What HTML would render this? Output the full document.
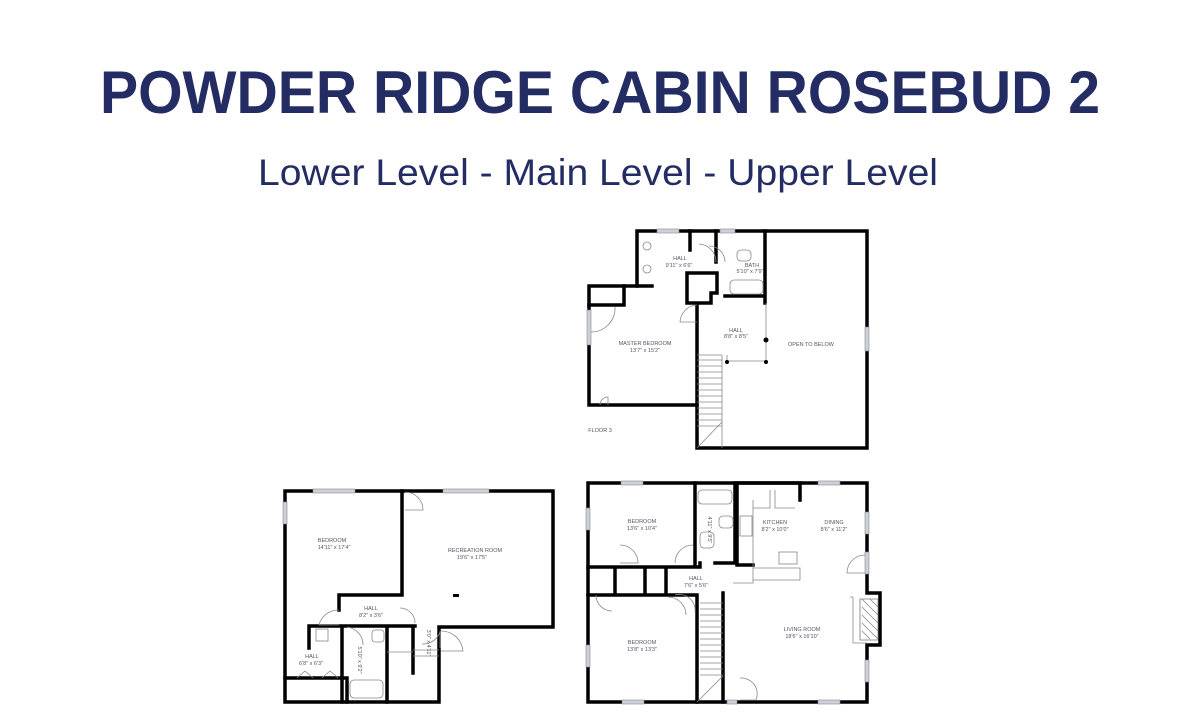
<!DOCTYPE html>
<html><head><meta charset="utf-8"><style>
html,body{margin:0;padding:0;background:#fff;}
svg{display:block;}
.t{font-family:"Liberation Sans",sans-serif;fill:#232c63;}
.w{fill:none;stroke:#000;stroke-width:3.5;stroke-linejoin:miter;stroke-linecap:square;}
.th{fill:none;stroke:#888;stroke-width:0.8;}
.win{fill:#cdd1dc;stroke:#888;stroke-width:0.6;}
.l{font-family:"Liberation Sans",sans-serif;font-size:5.5px;fill:#556;text-anchor:middle;}
</style></head><body>
<svg width="1200" height="720" viewBox="0 0 1200 720" xmlns="http://www.w3.org/2000/svg">
<rect width="1200" height="720" fill="#fff"/>
<text class="t" x="600" y="113" text-anchor="middle" font-size="60" font-weight="bold" textLength="1000" lengthAdjust="spacingAndGlyphs">POWDER RIDGE CABIN ROSEBUD 2</text>
<text class="t" x="598" y="185" text-anchor="middle" font-size="37" textLength="680" lengthAdjust="spacingAndGlyphs">Lower Level - Main Level - Upper Level</text>

<!-- FLOOR 3 -->
<g>
<path class="w" d="M637,286 L637,231 L867,231 L867,448 L697,448 L697,405 L589,405 L589,286 Z"/>
<path class="w" d="M765,231 L765,303 M725,296 L765,296 M687,273 L717,273 L717,293 L711,293 L711,303 L687,303 Z M716,231 L716,262 M690,231 L690,250 M697,303 L697,405 M589,305 L624,305 L624,286 M637,286 L652,286"/>
<path class="th" d="M766,303 L766,361 L727,361 L727,355 M722,355 L722,448 M697,355 L722,355"/>
<g class="th"><path d="M697,360H722M697,366H722M697,372H722M697,378H722M697,384H722M697,390H722M697,396H722M697,402H722M697,408H722M697,414H722M697,420H722M697,426H722M697,448L722,422"/></g>
<path class="th" d="M697,305 a18,18 0 0 0 -17,17 L697,322 M716,262 a18,18 0 0 0 -17,-18 M725,262 a16,16 0 0 0 -16,-16 M590,332 a24,24 0 0 0 25,-25 M600,405 a8,8 0 0 1 8,-8 L608,405"/>
<circle cx="766" cy="340" r="2.5"/><circle cx="727" cy="362" r="2"/><circle cx="766" cy="362" r="2"/>
<rect x="737" y="250" width="14" height="11" rx="4" class="th"/><rect x="730" y="280" width="33" height="14" rx="4" class="th"/>
<circle cx="647" cy="246" r="4" class="th"/><circle cx="647" cy="269" r="4" class="th"/>
<rect class="win" x="657" y="229" width="22" height="4"/>
<rect class="win" x="720" y="229" width="15" height="4"/>
<rect class="win" x="587" y="310" width="4" height="35"/>
<rect class="win" x="865" y="327" width="4" height="24"/>
<text class="l" x="680" y="260">HALL</text><text class="l" x="679" y="267">9'11" x 6'6"</text>
<text class="l" x="752" y="267">BATH</text><text class="l" x="750" y="273">5'10" x 7'9"</text>
<text class="l" x="736" y="332">HALL</text><text class="l" x="736" y="338">8'8" x 8'5"</text>
<text class="l" x="645" y="345">MASTER BEDROOM</text><text class="l" x="645" y="352">13'7" x 15'2"</text>
<text class="l" x="811" y="346">OPEN TO BELOW</text>
<text class="l" x="600" y="432">FLOOR 3</text>
</g>

<!-- LOWER -->
<g>
<path class="w" d="M285,491 L553,491 L553,627 L439,627 L439,702 L285,702 Z"/>
<path class="w" d="M402,491 L402,595 L339,595 L339,610 M310,626 L415,626 M342,626 L342,702 M387,626 L387,702 M413,626 L413,673 M309,626 L309,648 M285,678 L347,678 L347,702"/>
<path class="th" d="M339,610 a20,20 0 0 0 -20,15 L339,625 M405,492 a18,18 0 0 1 18,18 L405,510 M400,608 a15,15 0 0 1 15,15 M440,632 a18,18 0 0 1 -18,12 M347,627 a18,18 0 0 1 16,18 M440,631 L440,648 M441,631 a22,22 0 0 1 22,20 L441,651"/>
<path class="th" d="M413,650 L439,650 M413,656 L439,656 M387,652 L413,652 M297,678 L305,671 L313,678 M322,678 L330,671 L338,678"/>
<rect class="th" x="350" y="680" width="33" height="18" rx="4"/><rect class="th" x="372" y="630" width="12" height="12" rx="3"/>
<rect class="th" x="316" y="629" width="12" height="12"/>
<rect x="453" y="594" width="6" height="3"/>
<rect class="win" x="313" y="489" width="42" height="4"/>
<rect class="win" x="443" y="489" width="46" height="4"/>
<rect class="win" x="283" y="502" width="4" height="22"/>
<text class="l" x="332" y="542">BEDROOM</text><text class="l" x="334" y="549">14'11" x 17'4"</text>
<text class="l" x="475" y="552">RECREATION ROOM</text><text class="l" x="472" y="559">19'6" x 17'5"</text>
<text class="l" x="371" y="610">HALL</text><text class="l" x="371" y="617">8'2" x 3'6"</text>
<text class="l" x="312" y="658">HALL</text><text class="l" x="311" y="665">6'8" x 6'3"</text>
<text class="l" x="358" y="660" transform="rotate(90 358 660)">5'10" x 9'2"</text>
<text class="l" x="427" y="643" transform="rotate(90 427 643)">3'0" x 4'11"</text>
</g>

<!-- MAIN -->
<g>
<path class="w" d="M588,483 L867,483 L867,593 L880,593 L880,645 L867,645 L867,702 L588,702 Z"/>
<path class="w" d="M695,483 L695,567 M588,567 L700,567 L700,563 M588,595 L697,595 M615,567 L615,595 M645,567 L645,595 M666,567 L666,595 M697,595 L697,702 M723,593 L723,702 M735,483 L735,563 M715,563 L735,563 M737,483 L737,565 L753,565 M737,483 L800,483 L800,500"/>
<path class="th" d="M753,508 L770,508 L770,490 M775,490 L775,508 L795,508 M753,500 L753,568 L800,568 L800,580 L753,580 M733,583 L753,583 L753,568 M853,597 L853,643 L867,643 M850,597 L853,597 M700,603 L723,603 M700,609H723M700,615H723M700,621H723M700,627H723M700,633H723M700,639H723M700,645H723M700,651H723M700,657H723M700,663H723M700,669H723M700,675H723 M697,702 L723,676"/>
<path fill="#fff" stroke="#777" stroke-width="0.8" d="M860,599 L878,599 L878,640 L860,640 Z"/>
<path class="th" d="M862,599 L878,615 M862,607 L878,623 M862,615 L878,631 M862,623 L878,639 M862,631 L870,639 M870,599 L878,607"/>
<path class="th" d="M620,545 a18,18 0 0 1 18,18 L620,563 M693,545 a18,18 0 0 0 -18,18 M596,595 a16,16 0 0 0 16,16 M675,595 a16,16 0 0 1 20,18 M668,597 a18,18 0 0 1 18,18 M740,678 a16,16 0 0 1 16,22 L740,700 M865,555 a18,18 0 0 0 -18,18 L865,573"/>
<rect class="th" x="698" y="490" width="34" height="14" rx="4"/><rect class="th" x="719" y="516" width="14" height="12" rx="4"/>
<rect class="th" x="740" y="516" width="12" height="20"/><rect class="th" x="779" y="552" width="18" height="12"/>
<rect class="th" x="700" y="532" width="14" height="16" rx="4"/>
<rect class="win" x="621" y="481" width="22" height="4"/><rect class="win" x="818" y="481" width="22" height="4"/>
<rect class="win" x="622" y="700" width="22" height="4"/><rect class="win" x="818" y="700" width="22" height="4"/>
<rect class="win" x="727" y="700" width="10" height="4"/>
<rect class="win" x="586" y="508" width="4" height="22"/><rect class="win" x="586" y="645" width="4" height="22"/>
<rect class="win" x="865" y="512" width="4" height="22"/><rect class="win" x="865" y="552" width="4" height="22"/><rect class="win" x="865" y="660" width="4" height="22"/>
<text class="l" x="642" y="523">BEDROOM</text><text class="l" x="642" y="530">13'6" x 10'4"</text>
<text class="l" x="642" y="644">BEDROOM</text><text class="l" x="642" y="651">13'8" x 13'3"</text>
<text class="l" x="775" y="524">KITCHEN</text><text class="l" x="775" y="531">8'2" x 10'0"</text>
<text class="l" x="834" y="524">DINING</text><text class="l" x="834" y="531">8'6" x 11'2"</text>
<text class="l" x="696" y="580">HALL</text><text class="l" x="696" y="587">7'6" x 5'6"</text>
<text class="l" x="802" y="631">LIVING ROOM</text><text class="l" x="802" y="638">18'6" x 16'10"</text>
<text class="l" x="708" y="530" transform="rotate(90 708 530)">4'11" x 9'5"</text>
</g>
</svg>
</body></html>
